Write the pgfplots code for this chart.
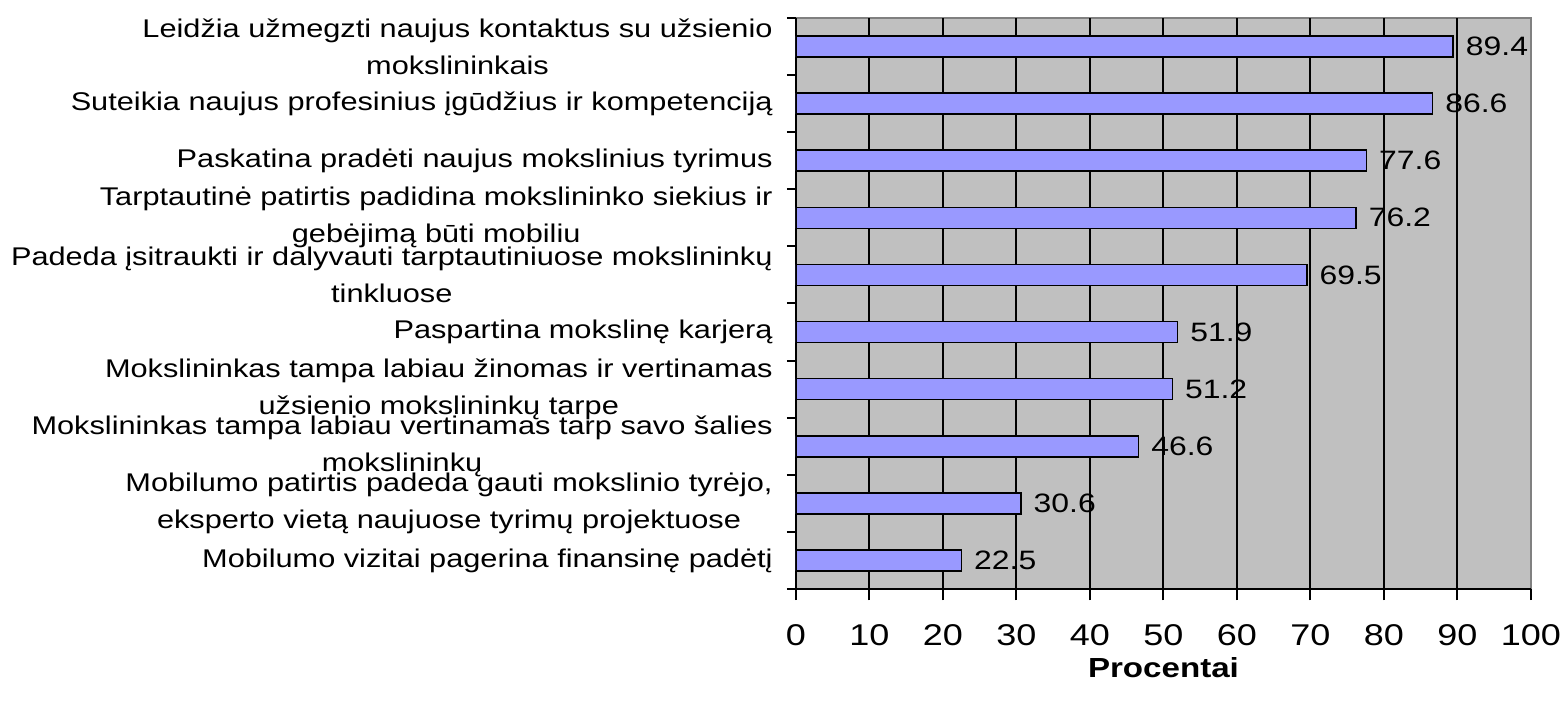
\documentclass[border=0pt]{standalone}
\usepackage{pgfplots}
\pgfplotsset{compat=1.18}
\usepackage{fontspec}
\setmainfont{Liberation Sans}[FakeStretch=1.2]
\definecolor{barblue}{HTML}{9999FF}
\definecolor{plotgray}{HTML}{C0C0C0}
\definecolor{framegray}{HTML}{808080}
\begin{document}
\begin{tikzpicture}
\useasboundingbox (-398pt,-56.5pt) rectangle (384pt,294.5pt);
\begin{axis}[
    at={(0,0)}, anchor=south west,
    scale only axis, width=367.5pt, height=285.5pt,
    xbar, bar width=10.5pt,
    xmin=0, xmax=100, ymin=-0.5, ymax=9.5,
    axis lines=left,
    axis line style={-, black, line width=1pt},
    axis background/.style={fill=plotgray, draw=framegray, line width=0.8pt},
    /pgf/number format/assume math mode=true,
    tick align=outside,
    tick style={black, line width=1pt},
    major tick length=5.5pt, minor tick length=4.5pt,
    xtick={0,10,...,100},
    extra x ticks={10,20,...,90}, extra x tick labels={},
    extra x tick style={grid=major},
    grid style={black, line width=1pt},
    xticklabel style={font=\fontsize{15}{18}\selectfont, inner sep=0pt, yshift=-12pt},
    ytick={0,...,9},
    major y tick style=transparent,
    minor ytick={-0.5,0.5,...,9.5},
    yticklabels={
        {Mobilumo vizitai pagerina finansinę padėtį},
        {Mobilumo patirtis padeda gauti mokslinio tyrėjo,\\eksperto vietą naujuose tyrimų projektuose},
        {Mokslininkas tampa labiau vertinamas tarp savo šalies\\mokslininkų},
        {Mokslininkas tampa labiau žinomas ir vertinamas\\užsienio mokslininkų tarpe},
        {Paspartina mokslinę karjerą},
        {Padeda įsitraukti ir dalyvauti tarptautiniuose mokslininkų\\tinkluose},
        {Tarptautinė patirtis padidina mokslininko siekius ir\\gebėjimą būti mobiliu},
        {Paskatina pradėti naujus mokslinius tyrimus},
        {Suteikia naujus profesinius įgūdžius ir kompetenciją},
        {Leidžia užmegzti naujus kontaktus su užsienio\\mokslininkais},
    },
    yticklabel style={align=center, font=\fontsize{12.8}{18.5}\selectfont, inner sep=0pt, xshift=-6pt},
    xlabel={\textbf{Procentai}},
    xlabel style={font=\fontsize{13.8}{16}\selectfont, at={(axis description cs:0.5,0)}, anchor=center, yshift=-39.5pt},
    nodes near coords={\pgfmathprintnumber[fixed, precision=1, fixed zerofill]{\pgfplotspointmeta}},
    every node near coord/.append style={font=\fontsize{13.3}{16}\selectfont, anchor=west, inner sep=0pt, xshift=6pt, black},
]
\addplot[fill=barblue, draw=black, line width=0.8pt] coordinates {
    (22.5,0) (30.6,1) (46.6,2) (51.2,3) (51.9,4)
    (69.5,5) (76.2,6) (77.6,7) (86.6,8) (89.4,9)
};
\end{axis}
\end{tikzpicture}
\end{document}
